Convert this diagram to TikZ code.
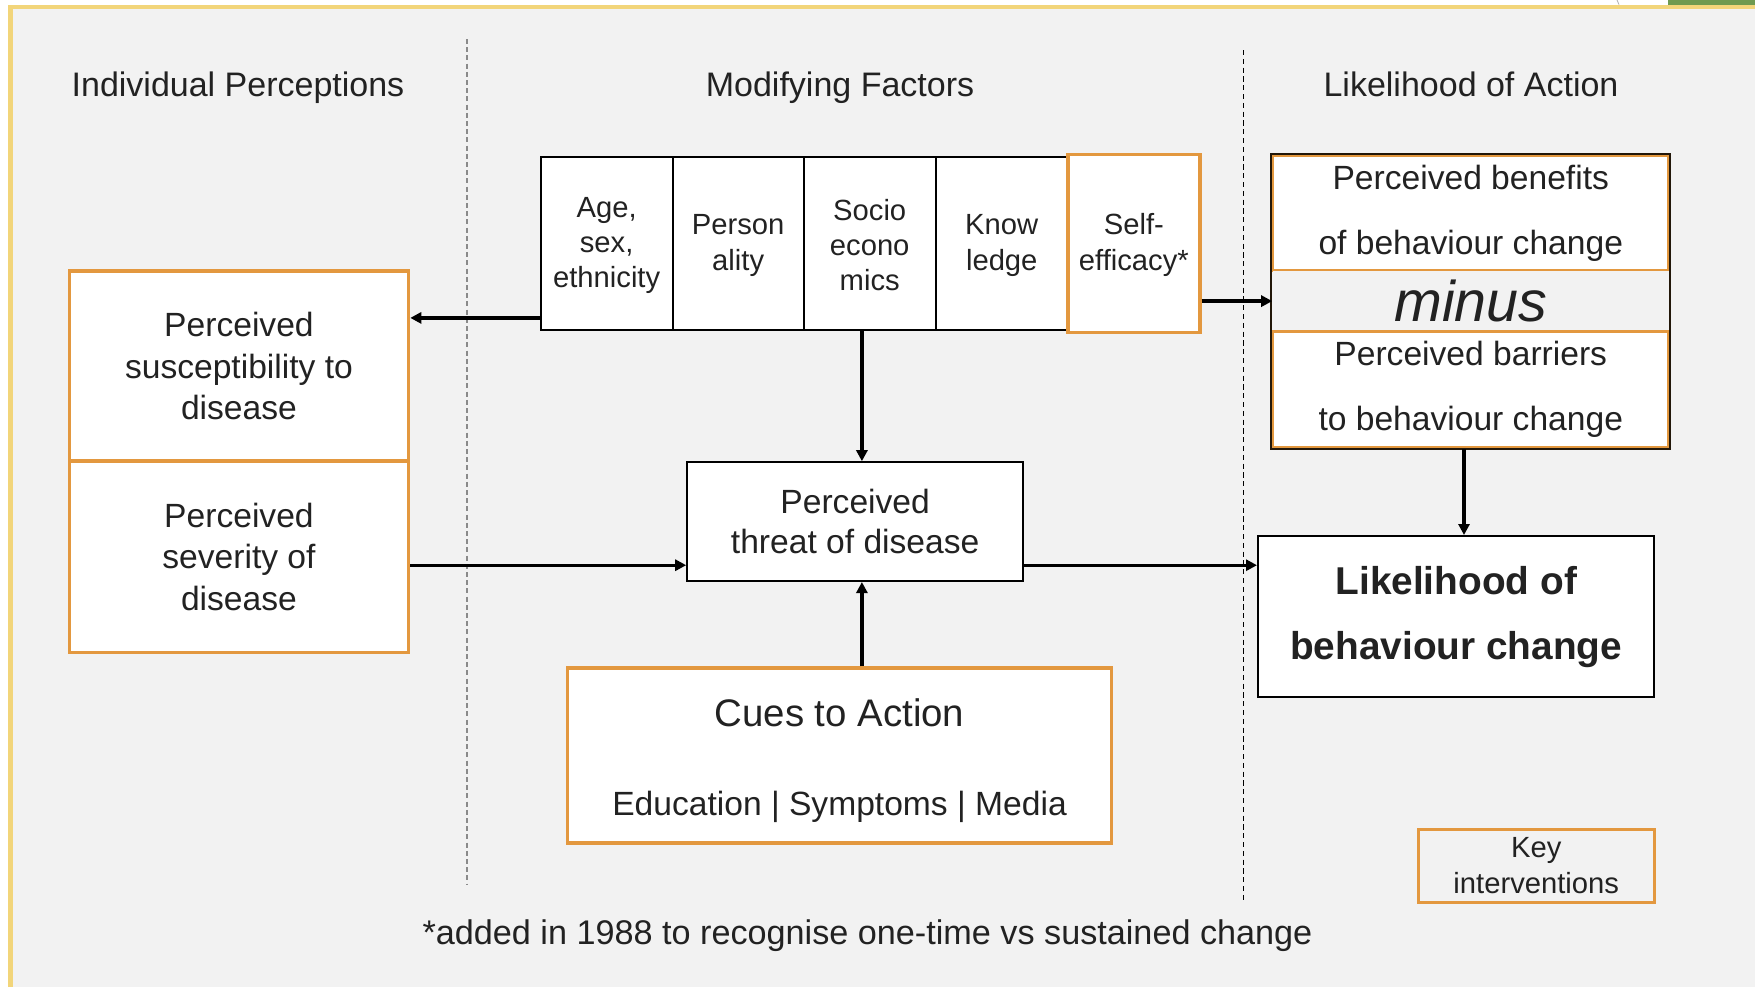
\documentclass[tikz,border=0pt]{standalone}
\usepackage{fontspec}
\setmainfont{Liberation Sans}
\usetikzlibrary{arrows.meta,calc}

\definecolor{bg}{HTML}{F2F2F2}
\definecolor{frame}{HTML}{F2D57A}
\definecolor{ora}{HTML}{E3983F}
\definecolor{ink}{HTML}{222222}
\definecolor{leaf}{HTML}{6F9A50}
\definecolor{rule}{HTML}{8A8A8A}

\newcommand\setfs[2]{\fontsize{#1}{#2}\selectfont}

\begin{document}
\begin{tikzpicture}[x=0.5pt,y=-0.5pt,
  hdr/.style={text=ink,anchor=base,font=\setfs{17}{20}},
  sized/.style 2 args={minimum width=#1pt,minimum height=#2pt},
  box/.style={draw=black,line width=1.1pt,fill=white,inner sep=0pt,align=center,text=ink},
  obox/.style={draw=ora,line width=1.8pt,fill=white,inner sep=0pt,align=center,text=ink},
  cell/.style={box,font=\setfs{14.6}{17.6}},
  arr/.style={line width=1.7pt,-{Triangle[length=5.5pt,width=5.5pt]}}]

\useasboundingbox (0,0) rectangle (1755,987);
\fill[bg] (0,0) rectangle (1755,987);
% window edge strips
\fill[white] (0,0) rectangle (1755,4.6);
\fill[white] (0,0) rectangle (8.4,987);
\fill[leaf] (1668,0) rectangle (1755,4.6);
\draw[gray!60,line width=0.4pt] (1617,0) -- (1619,4.6);
\draw[frame,line width=2.2pt] (10.3,987) -- (10.3,6.9) -- (1755,6.9);

% column separators
\draw[rule,line width=1.1pt,dash pattern=on 2.5pt off 1.6pt] (466.8,39) -- (466.8,884);
\draw[black,line width=0.9pt,dash pattern=on 2.6pt off 1.8pt] (1243.5,50) -- (1243.5,901);

% column headings
\node[hdr] (h1) at (238,96) {Individual Perceptions};
\node[hdr] (h2) at (840,96) {Modifying Factors};
\node[hdr] (h3) at (1471,96) {Likelihood of Action};

% modifying factors
\node[cell,sized={66.05}{86.75}] (age) at (606.65,243.45) {\rule{0pt}{12pt}Age,\\sex,\\ethnicity};
\node[cell,sized={65.5}{86.75}] (pers) at (738.2,243.45) {\rule{0pt}{12pt}Person\\ality};
\node[cell,sized={66}{86.75}] (socio) at (869.7,243.45) {\rule{0pt}{12pt}Socio\\econo\\mics};
\node[cell,sized={66.05}{86.75}] (know) at (1001.75,243.45) {\rule{0pt}{12pt}Know\\ledge};
\node[obox,font=\setfs{14.6}{17.6},sized={66.05}{88.95}] (self) at (1133.85,243.45) {\rule{0pt}{12pt}Self-\\efficacy*};

% individual perceptions
\node[obox,font=\setfs{16.8}{20.7},sized={169.55}{95.15}] (susc) at (238.95,366.05) {Perceived\\susceptibility to\\disease};
\node[obox,font=\setfs{16.8}{20.7},sized={169.55}{95.7}] (sev) at (238.95,556.9) {Perceived\\severity of\\disease};

% threat
\node[box,font=\setfs{16.8}{20},sized={167.85}{59.3}] (threat) at (855.15,521.6) {Perceived\\threat of disease};

% cues to action
\node[obox,font=\setfs{16.8}{44.8},sized={272}{87.3}] (cues) at (839.5,755.5)
  {{\setfs{19.2}{44.8}\rule{0pt}{19pt}Cues to Action}\\Education | Symptoms | Media};

% benefits minus barriers
\node[obox,line width=1.5pt,font=\setfs{16.8}{32.5},sized={198.15}{57.65}] (benef) at (1470.75,213.25) {Perceived benefits\\of behaviour change};
\node[fill=bg,inner sep=0pt,text=ink,font=\itshape\setfs{28.7}{32},sized={198.15}{30.2}] (minus) at (1470.75,301.1) {minus};
\node[obox,line width=1.5pt,font=\setfs{16.8}{32.5},sized={198.15}{58.2}] (barr) at (1470.75,389.5) {Perceived barriers\\to behaviour change};
\draw[line width=1pt,draw=black!85!ora] (benef.north west) rectangle (barr.south east);

% outcome
\node[box,font=\bfseries\setfs{19.4}{32.5},sized={198.1}{80.6}] (like) at (1456.2,616.7) {Likelihood of\\behaviour change};

% legend
\node[draw=ora,line width=1.6pt,inner sep=0pt,align=center,text=ink,font=\setfs{14.6}{17.9},sized={118.05}{36.4}] (key) at (1536.25,865.8) {Key\\interventions};

% footnote
\node[hdr,font=\setfs{17.1}{20}] (note) at (867.5,944.5) {*added in 1988 to recognise one-time vs sustained change};

% connectors
\coordinate (l1) at ([yshift=6.7pt]age.south west);
\coordinate (cx) at (861.9,0);
\coordinate (ry) at (0,565.2);
\coordinate (rx) at (1464,0);
\draw[arr] (l1) -- (l1 -| susc.east);
\draw[arr] (self.east |- minus.west) -- (minus.west);
\draw[arr] (age.south -| cx) -- (threat.north -| cx);
\draw[arr] (cues.north -| cx) -- (threat.south -| cx);
\draw[arr] (sev.east |- ry) -- (threat.west |- ry);
\draw[arr] (threat.east |- ry) -- (like.west |- ry);
\draw[arr] (barr.south -| rx) -- (like.north -| rx);
\end{tikzpicture}
\end{document}
